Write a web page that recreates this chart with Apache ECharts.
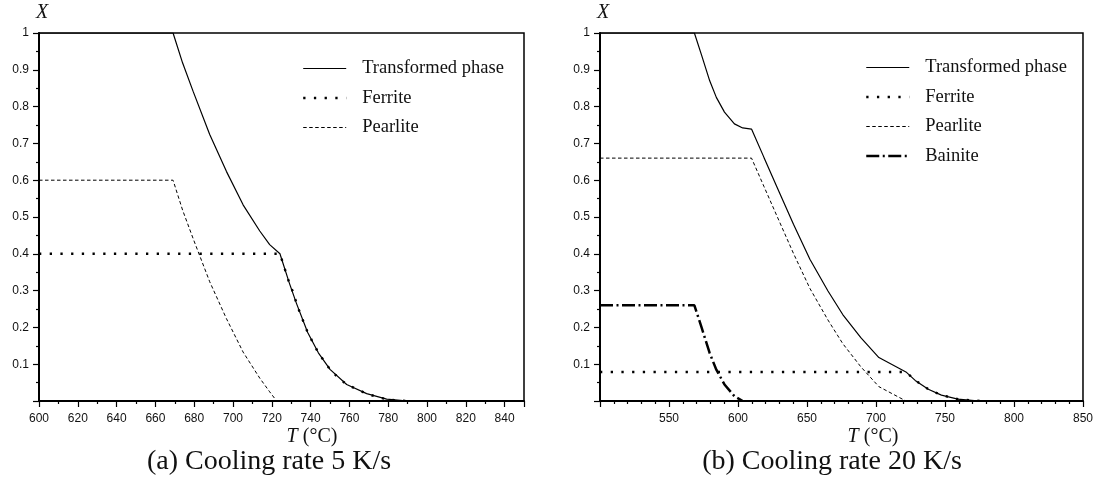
<!DOCTYPE html>
<html>
<head>
<meta charset="utf-8">
<script src="https://cdn.jsdelivr.net/npm/echarts@6/dist/echarts.min.js"></script>
<style>
  html, body { margin: 0; padding: 0; background: #fff; }
  #chart { width: 1096px; height: 501px; }
</style>
</head>
<body>
<div id="chart"></div>
<script>
// (a) Cooling rate 5 K/s — temperatures in °C, phase fractions X
const tempA_transformed = [600, 669.1, 674, 679.4, 688.0, 696.6, 705.2, 713.8, 718.9, 724.2, 729.0, 732.8, 738.5, 744.0, 750.0, 758.6, 768.9, 779.2, 790.4];
const valA_transformed  = [1, 1, 0.919, 0.842, 0.724, 0.624, 0.533, 0.462, 0.425, 0.4, 0.321, 0.264, 0.186, 0.131, 0.086, 0.045, 0.02, 0.005, 0];
const tempA_ferrite = [600, 724.2, 729.0, 731.1, 732.8, 734.5, 738.5, 744.0, 750.0, 754.3, 758.6, 763.8, 768.9, 774.1, 779.2, 785.3, 790.4];
const valA_ferrite  = [0.4, 0.4, 0.321, 0.294, 0.264, 0.240, 0.186, 0.131, 0.086, 0.063, 0.045, 0.032, 0.020, 0.011, 0.005, 0.001, 0];
const tempA_pearlite = [600, 669.1, 674, 679.4, 688.0, 696.6, 705.2, 713.8, 718.9, 722.5];
const valA_pearlite  = [0.6, 0.6, 0.519, 0.442, 0.324, 0.224, 0.133, 0.062, 0.025, 0];

// (b) Cooling rate 20 K/s
const tempB_transformed = [500, 568.4, 573.6, 579.5, 584.3, 590.2, 597.4, 603.4, 609.8, 618.8, 628.3, 640.2, 652.1, 665.2, 675.9, 689.0, 702.1, 721.7, 728.4, 737.9, 747.4, 759.3, 771.2, 778];
const valB_transformed  = [1, 1, 0.94, 0.87, 0.825, 0.785, 0.753, 0.742, 0.739, 0.662, 0.581, 0.480, 0.385, 0.299, 0.235, 0.172, 0.118, 0.079, 0.056, 0.032, 0.016, 0.005, 0.001, 0];
const tempB_ferrite = [500, 721.7, 728.4, 737.9, 747.4, 759.3, 771.2, 778];
const valB_ferrite  = [0.079, 0.079, 0.056, 0.032, 0.016, 0.005, 0.001, 0];
const tempB_pearlite = [500, 609.8, 618.8, 628.3, 640.2, 652.1, 665.2, 675.9, 689.0, 702.1, 721.7];
const valB_pearlite  = [0.66, 0.66, 0.583, 0.502, 0.401, 0.306, 0.220, 0.156, 0.093, 0.039, 0];
const tempB_bainite = [500, 568.4, 573.6, 579.5, 584.3, 590.2, 597.4, 603.4];
const valB_bainite  = [0.26, 0.26, 0.20, 0.13, 0.085, 0.045, 0.013, 0];

const phaseNames = ['Transformed phase', 'Ferrite', 'Pearlite', 'Bainite'];
const captions = ['(a) Cooling rate 5 K/s', '(b) Cooling rate 20 K/s'];

const SERIF = '"Liberation Serif", "DejaVu Serif", serif';
const SANS = '"Liberation Sans", Arial, sans-serif';

function pairs(t, v) { return t.map((x, i) => [x, v[i]]); }

const styles = {
  'Transformed phase': { type: 'solid', width: 1.2 },
  'Ferrite': { type: [2.3, 8.4], width: 2.4 },
  'Pearlite': { type: [3.5, 2.5], width: 1 },
  'Bainite': { type: [13, 3.5, 2, 3.5], width: 2.5 }
};

function lineSeries(name, gi, t, v) {
  const s = styles[name];
  return {
    name: name, type: 'line', xAxisIndex: gi, yAxisIndex: gi,
    data: pairs(t, v), symbol: 'none', smooth: false, silent: true,
    lineStyle: { color: '#000', width: s.width, type: s.type, cap: 'butt' },
    itemStyle: { color: '#000' }
  };
}

function xAxisCfg(gi, min, max, interval, minorSplit, hideValue) {
  return {
    gridIndex: gi, type: 'value', min: min, max: max, interval: interval,
    axisLine: { onZero: false, lineStyle: { color: '#000', width: 2 } },
    axisTick: { length: 6, lineStyle: { color: '#000', width: 1.2 } },
    minorTick: { show: true, splitNumber: minorSplit, length: 3, lineStyle: { color: '#000', width: 1.2 } },
    splitLine: { show: false }, minorSplitLine: { show: false },
    axisLabel: {
      fontFamily: SANS, fontSize: 12, color: '#111', margin: 12,
      formatter: v => v === hideValue ? '' : String(v)
    }
  };
}

function yAxisCfg(gi) {
  return {
    gridIndex: gi, type: 'value', min: 0, max: 1, interval: 0.1,
    axisLine: { onZero: false, lineStyle: { color: '#000', width: 2 } },
    axisTick: { length: 6, lineStyle: { color: '#000', width: 1.2 } },
    minorTick: { show: true, splitNumber: 2, length: 3, lineStyle: { color: '#000', width: 1.2 } },
    splitLine: { show: false }, minorSplitLine: { show: false },
    axisLabel: {
      fontFamily: SANS, fontSize: 12, color: '#111', margin: 10,
      formatter: v => v === 0 ? '' : (v === 1 ? '1' : (+v).toFixed(1))
    },
    name: 'X', nameLocation: 'end', nameGap: 10,
    nameTextStyle: { fontFamily: SERIF, fontSize: 20, fontStyle: 'italic', color: '#111', padding: [0, 0, 0, 6] }
  };
}

function legendCfg(left, top, names) {
  return {
    orient: 'vertical', left: left, top: top, padding: 0, selectedMode: false,
    itemWidth: 43, itemHeight: 14, itemGap: 10.5,
    // line sample only, no marker in the middle of the key
    itemStyle: { opacity: 0 },
    data: names.map(n => ({
      name: n,
      lineStyle: { width: styles[n].width, type: styles[n].type, color: '#000', cap: 'butt' }
    })),
    textStyle: { fontFamily: SERIF, fontSize: 18.5, color: '#111', padding: [0, 0, 0, 11] }
  };
}

function textEl(str, cx, cy, size, italicFirst) {
  return {
    type: 'text', x: cx, y: cy,
    style: {
      text: str, font: size + 'px ' + SERIF, fill: '#111', align: 'center', verticalAlign: 'middle',
      rich: italicFirst ? { i: { font: 'italic ' + size + 'px ' + SERIF, fill: '#111' } } : undefined
    }
  };
}

const option = {
  backgroundColor: '#fff',
  animation: false,
  grid: [
    { left: 39, top: 33, width: 485, height: 368, show: true, borderColor: '#000', borderWidth: 1.5, backgroundColor: 'transparent' },
    { left: 600, top: 33, width: 490, height: 368, show: true, borderColor: '#000', borderWidth: 1.5, backgroundColor: 'transparent' }
  ],
  xAxis: [ xAxisCfg(0, 600, 850, 20, 2, 850), xAxisCfg(1, 500, 850, 50, 5, 500) ],
  yAxis: [ yAxisCfg(0), yAxisCfg(1) ],
  legend: [
    legendCfg(302, 59, phaseNames.slice(0, 3)),
    legendCfg(865, 58, phaseNames)
  ],
  graphic: [
    textEl('{i|T} (°C)', 312, 437, 20, true),
    textEl('{i|T} (°C)', 873, 437, 20, true),
    textEl(captions[0], 269, 462, 28, false),
    textEl(captions[1], 832, 462, 28, false)
  ],
  series: [
    lineSeries('Transformed phase', 0, tempA_transformed, valA_transformed),
    lineSeries('Ferrite', 0, tempA_ferrite, valA_ferrite),
    lineSeries('Pearlite', 0, tempA_pearlite, valA_pearlite),
    lineSeries('Transformed phase', 1, tempB_transformed, valB_transformed),
    lineSeries('Ferrite', 1, tempB_ferrite, valB_ferrite),
    lineSeries('Pearlite', 1, tempB_pearlite, valB_pearlite),
    lineSeries('Bainite', 1, tempB_bainite, valB_bainite)
  ]
};

const chart = echarts.init(document.getElementById('chart'), null, { renderer: 'canvas' });
chart.setOption(option);
</script>
</body>
</html>
